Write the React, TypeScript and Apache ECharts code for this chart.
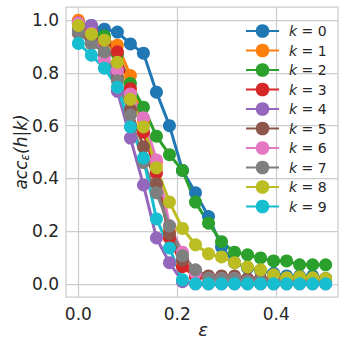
import React, { useEffect, useRef } from "react";
import * as echarts from "echarts";

const eps: number[] = Array.from({ length: 20 }, (_, i) => +(i * 0.5 / 19).toFixed(5));

const k0 = [0.99, 0.98, 0.966, 0.955, 0.91, 0.875, 0.727, 0.6, 0.43, 0.345, 0.255, 0.14, 0.08, 0.06, 0.05, 0.04, 0.03, 0.03, 0.03, 0.02];
const k1 = [1.0, 0.97, 0.93, 0.905, 0.79, 0.62, 0.46, 0.2, 0.07, 0.03, 0.02, 0.02, 0.02, 0.01, 0.01, 0.01, 0.01, 0.01, 0.01, 0.01];
const k2 = [0.99, 0.97, 0.94, 0.87, 0.76, 0.67, 0.56, 0.49, 0.43, 0.31, 0.23, 0.16, 0.12, 0.11, 0.098, 0.087, 0.087, 0.072, 0.072, 0.072];
const k3 = [0.99, 0.96, 0.92, 0.88, 0.74, 0.575, 0.42, 0.174, 0.065, 0.027, 0.02, 0.02, 0.01, 0.01, 0.01, 0.01, 0.01, 0.01, 0.01, 0.01];
const k4 = [0.97, 0.98, 0.87, 0.73, 0.553, 0.375, 0.174, 0.08, 0.008, 0, 0, 0, 0, 0, 0, 0, 0, 0, 0, 0];
const k5 = [0.95, 0.93, 0.875, 0.78, 0.66, 0.52, 0.38, 0.19, 0.09, 0.05, 0.03, 0.03, 0.03, 0.02, 0.02, 0.02, 0.02, 0.02, 0.02, 0.02];
const k6 = [0.99, 0.95, 0.85, 0.81, 0.72, 0.63, 0.47, 0.22, 0.12, 0.04, 0.02, 0.02, 0.02, 0.01, 0.01, 0.01, 0.01, 0.01, 0.01, 0.01];
const k7 = [0.955, 0.91, 0.88, 0.77, 0.64, 0.46, 0.345, 0.22, 0.106, 0.053, 0.02, 0.02, 0.02, 0.01, 0.01, 0.01, 0.01, 0.01, 0.01, 0.01];
const k8 = [0.98, 0.947, 0.924, 0.84, 0.7, 0.595, 0.44, 0.31, 0.21, 0.148, 0.114, 0.102, 0.08, 0.064, 0.053, 0.034, 0.023, 0.026, 0.023, 0.02];
const k9 = [0.912, 0.867, 0.818, 0.746, 0.595, 0.477, 0.246, 0.136, 0.015, 0, 0, 0, 0, 0, 0, 0, 0, 0, 0, 0];

const seriesValues = [k0, k1, k2, k3, k4, k5, k6, k7, k8, k9];
const seriesNames = ["k = 0", "k = 1", "k = 2", "k = 3", "k = 4", "k = 5", "k = 6", "k = 7", "k = 8", "k = 9"];
const colors = ["#1f77b4", "#ff7f0e", "#2ca02c", "#d62728", "#9467bd", "#8c564b", "#e377c2", "#7f7f7f", "#bcbd22", "#17becf"];

const xTicks = [0, 0.2, 0.4];
const yTicks = [0, 0.2, 0.4, 0.6, 0.8, 1.0];

const FONT = "DejaVu Sans";
const GRID = "#cccccc";
const TXT = "#262626";

export default function App() {
  const ref = useRef<HTMLDivElement>(null);
  useEffect(() => {
    if (!ref.current) return;
    const chart = echarts.init(ref.current, null, { renderer: "svg" });
    const gridLines = [
      ...xTicks.map((v) => ({ xAxis: v })),
      ...yTicks.map((v) => ({ yAxis: v })),
    ];
    const series: any[] = seriesValues.map((vals, si) => ({
      type: "line",
      name: seriesNames[si],
      data: vals.map((v, i) => [eps[i], v]),
      color: colors[si],
      symbol: "circle",
      symbolSize: 13,
      showSymbol: true,
      lineStyle: { width: 3, color: colors[si] },
      itemStyle: { color: colors[si] },
      z: 3,
      ...(si === 0
        ? {
            markLine: {
              silent: true,
              symbol: "none",
              z: 1,
              label: { show: false },
              lineStyle: { color: GRID, width: 1.25, type: "solid" },
              emphasis: { disabled: true },
              data: gridLines,
            },
          }
        : {}),
    }));
    chart.setOption({
      animation: false,
      backgroundColor: "#ffffff",
      color: colors,
      grid: {
        left: 66,
        right: 11,
        top: 7,
        bottom: 54,
        show: true,
        borderColor: GRID,
        borderWidth: 1.25,
        backgroundColor: "transparent",
      },
      xAxis: {
        type: "value",
        min: -0.025,
        max: 0.525,
        axisLine: { show: false },
        axisTick: { show: false },
        splitLine: { show: false },
        axisLabel: {
          customValues: xTicks,
          formatter: (v: number) => v.toFixed(1),
          color: TXT,
          fontSize: 17,
          fontFamily: FONT,
          margin: 8,
        },
      },
      yAxis: {
        type: "value",
        min: -0.05,
        max: 1.05,
        axisLine: { show: false },
        axisTick: { show: false },
        splitLine: { show: false },
        axisLabel: {
          customValues: yTicks,
          formatter: (v: number) => v.toFixed(1),
          color: TXT,
          fontSize: 17,
          fontFamily: FONT,
          margin: 7,
        },
      },
      legend: {
        orient: "vertical",
        left: 240,
        top: 19,
        itemWidth: 33,
        itemHeight: 17,
        itemGap: 5.5,
        formatter: (name: string) => `{i|k} ${name.slice(2)}`,
        textStyle: {
          color: TXT,
          fontSize: 14,
          fontFamily: FONT,
          padding: [0, 0, 0, 5],
          rich: {
            i: { fontStyle: "italic", fontSize: 14, fontFamily: FONT, color: TXT },
          },
        },
        data: seriesNames,
      },
      graphic: [
        {
          type: "text",
          x: 21,
          y: 152,
          rotation: Math.PI / 2,
          style: {
            text: "{a|acc}{b|ε}{a|(h|k)}",
            align: "center",
            verticalAlign: "middle",
            fill: TXT,
            rich: {
              a: { fontStyle: "italic", fontSize: 17, fontFamily: FONT, fill: TXT, color: TXT },
              b: { fontStyle: "italic", fontSize: 12, fontFamily: FONT, fill: TXT, color: TXT, verticalAlign: "bottom", padding: [8, 0, 0, 0] },
            },
          },
        },
        {
          type: "text",
          x: 203,
          y: 329,
          style: {
            text: "ε",
            align: "center",
            verticalAlign: "middle",
            fill: TXT,
            font: `italic 18px "${FONT}"`,
          },
        },
      ],
      series,
    });
    return () => chart.dispose();
  }, []);
  return <div ref={ref} style={{ width: 349, height: 351, position: "absolute", left: 0, top: 0 }} />;
}
